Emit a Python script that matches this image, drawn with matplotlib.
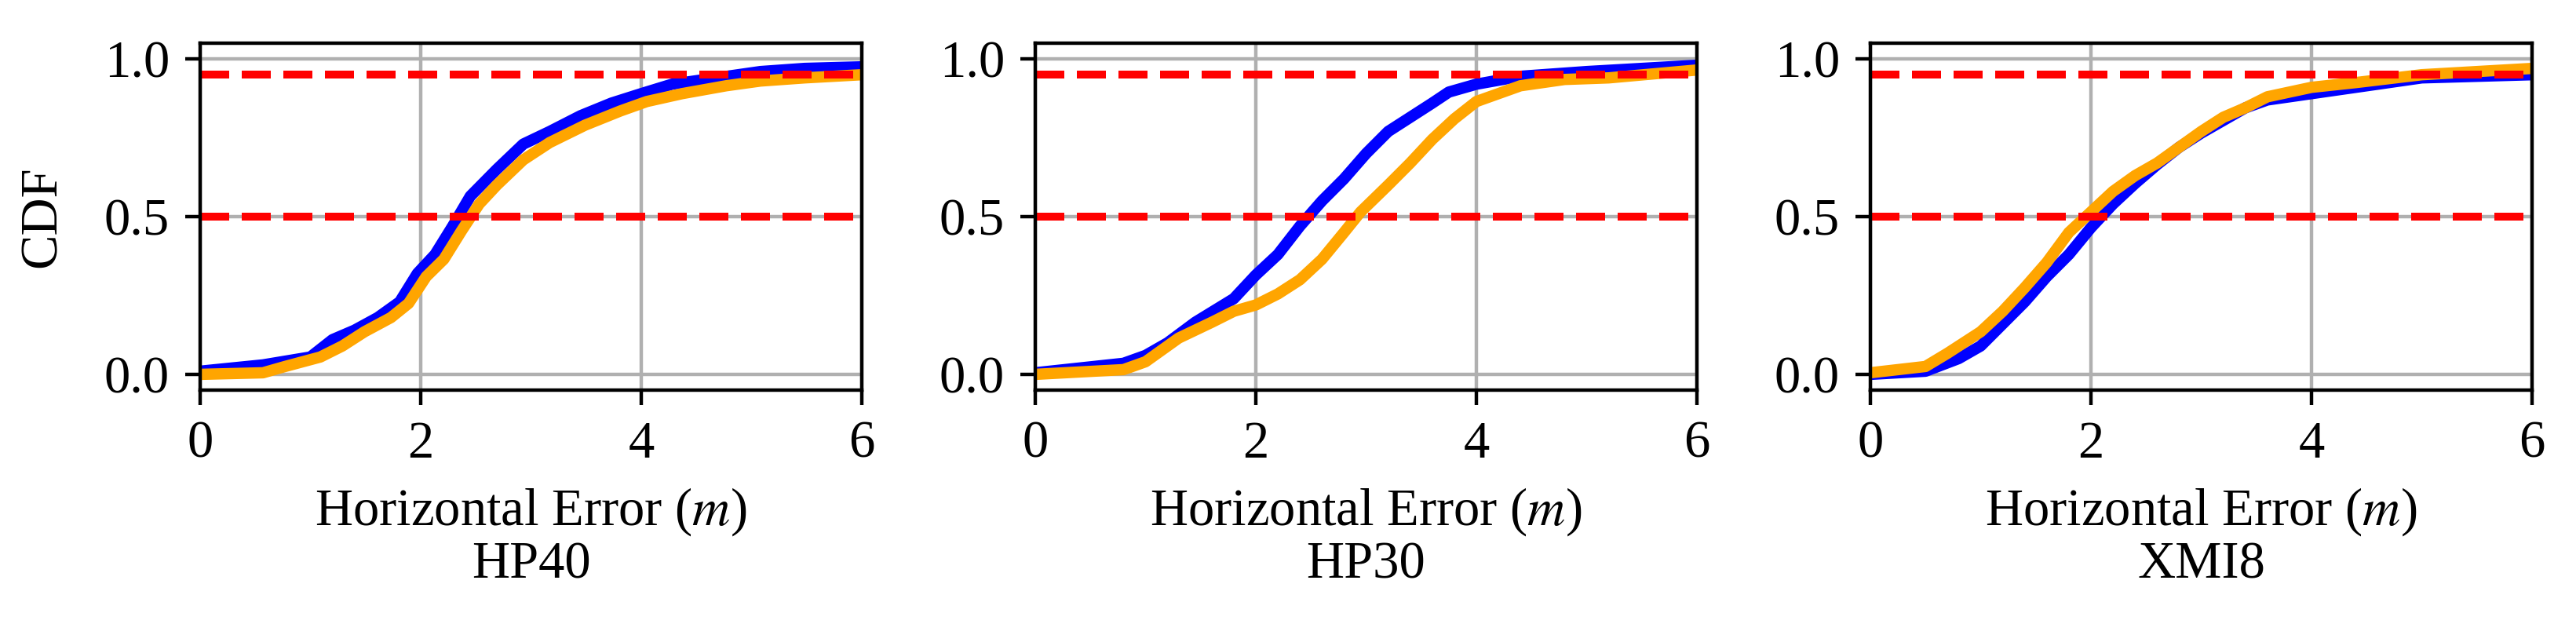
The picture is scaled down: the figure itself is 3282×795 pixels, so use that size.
import matplotlib
matplotlib.use("Agg")
import matplotlib.pyplot as plt

plt.rcParams['font.family'] = ['Liberation Serif', 'DejaVu Serif']
plt.rcParams['mathtext.fontset'] = 'stix'
plt.rcParams['font.size'] = 12

# HP40
hp40_blue_x = [0, 0.57, 1.0, 1.2, 1.4, 1.61, 1.81, 1.97, 2.13, 2.29, 2.45, 2.69, 2.93, 3.17, 3.45, 3.73, 4.0, 4.28, 4.68, 5.08, 5.48, 6.0]
hp40_blue_y = [0.01, 0.03, 0.055, 0.11, 0.14, 0.18, 0.23, 0.32, 0.38, 0.47, 0.565, 0.65, 0.73, 0.77, 0.82, 0.86, 0.89, 0.92, 0.94, 0.96, 0.97, 0.975]
hp40_orange_x = [0, 0.57, 0.77, 1.09, 1.29, 1.49, 1.73, 1.89, 2.05, 2.21, 2.37, 2.53, 2.69, 2.93, 3.17, 3.49, 3.81, 4.05, 4.37, 4.77, 5.08, 5.48, 6.0]
hp40_orange_y = [0.0, 0.005, 0.025, 0.055, 0.09, 0.135, 0.18, 0.225, 0.31, 0.365, 0.455, 0.54, 0.6, 0.68, 0.735, 0.79, 0.835, 0.865, 0.89, 0.915, 0.93, 0.94, 0.95]

# HP30
hp30_blue_x = [0, 0.8, 1.0, 1.2, 1.45, 1.8, 2.0, 2.2, 2.4, 2.6, 2.8, 3.0, 3.2, 3.4, 3.6, 3.75, 4.0, 4.4, 5.0, 6.0]
hp30_blue_y = [0.005, 0.035, 0.06, 0.1, 0.165, 0.24, 0.315, 0.38, 0.47, 0.55, 0.62, 0.70, 0.77, 0.815, 0.86, 0.895, 0.92, 0.945, 0.96, 0.98]
hp30_orange_x = [0, 0.8, 1.0, 1.3, 1.6, 1.8, 2.0, 2.2, 2.4, 2.6, 2.8, 2.95, 3.2, 3.4, 3.6, 3.8, 4.0, 4.2, 4.4, 4.8, 5.2, 6.0]
hp30_orange_y = [0.0, 0.015, 0.04, 0.115, 0.165, 0.2, 0.22, 0.255, 0.3, 0.365, 0.45, 0.515, 0.6, 0.67, 0.745, 0.81, 0.865, 0.89, 0.915, 0.935, 0.94, 0.965]

# XMI8
xmi8_blue_x = [0, 0.5, 0.8, 1.0, 1.2, 1.4, 1.6, 1.8, 2.0, 2.2, 2.4, 2.6, 2.8, 3.0, 3.2, 3.4, 3.6, 4.0, 4.4, 5.0, 5.5, 6.0]
xmi8_blue_y = [0.0, 0.01, 0.05, 0.09, 0.16, 0.23, 0.31, 0.38, 0.465, 0.54, 0.605, 0.665, 0.72, 0.765, 0.805, 0.845, 0.87, 0.89, 0.91, 0.94, 0.945, 0.95]
xmi8_orange_x = [0, 0.5, 0.7, 1.0, 1.2, 1.4, 1.6, 1.8, 2.0, 2.2, 2.4, 2.6, 2.8, 3.0, 3.2, 3.4, 3.6, 4.0, 4.4, 5.0, 5.5, 6.0]
xmi8_orange_y = [0.005, 0.025, 0.067, 0.135, 0.2, 0.275, 0.355, 0.45, 0.515, 0.58, 0.63, 0.67, 0.72, 0.77, 0.815, 0.845, 0.88, 0.91, 0.925, 0.95, 0.96, 0.97]

names = ['HP40', 'HP30', 'XMI8']
panels = [
    (hp40_blue_x, hp40_blue_y, hp40_orange_x, hp40_orange_y),
    (hp30_blue_x, hp30_blue_y, hp30_orange_x, hp30_orange_y),
    (xmi8_blue_x, xmi8_blue_y, xmi8_orange_x, xmi8_orange_y),
]
ref_levels = [0.5, 0.95]

fig = plt.figure(figsize=(8.205, 1.9875), dpi=400)
lefts = [255 / 3282, 1319 / 3282, 2383 / 3282]

for i, (name, (bx, by, ox, oy)) in enumerate(zip(names, panels)):
    ax = fig.add_axes([lefts[i], 0.3748, 843 / 3282, 0.556])
    ax.plot(bx, by, color='blue', linewidth=2.6)
    ax.plot(ox, oy, color='orange', linewidth=2.6)
    for lv in ref_levels:
        ax.axhline(lv, color='red', linestyle='--', linewidth=1.8)
    ax.set_xlim(0, 6)
    ax.set_ylim(-0.05, 1.05)
    ax.set_xticks([0, 2, 4, 6])
    ax.set_yticks([0.0, 0.5, 1.0])
    ax.grid(True)
    ax.set_xlabel('Horizontal Error ($m$)\n' + name, linespacing=1.1)
    if i == 0:
        ax.set_ylabel('CDF')
        ax.yaxis.set_label_coords(-0.202, 0.5)

fig.savefig('out.png', dpi=400)
